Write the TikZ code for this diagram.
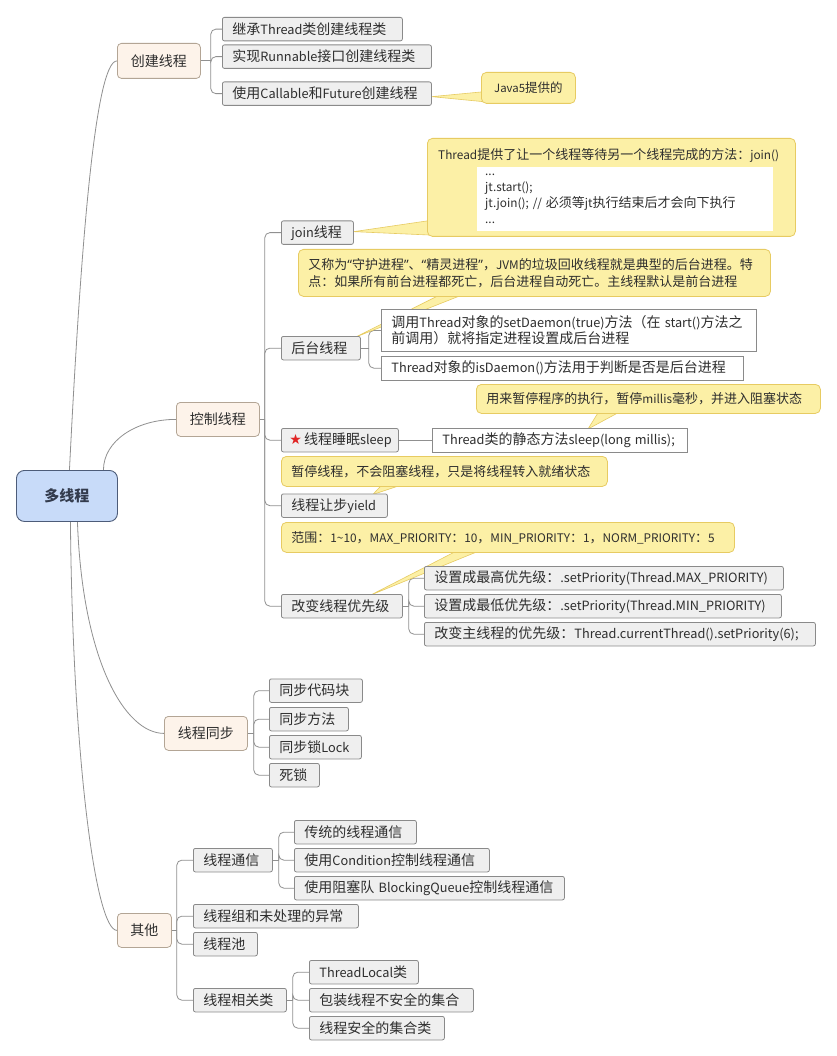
\documentclass[tikz,border=0pt]{standalone}
\usepackage{fontspec}
\setmainfont{Noto Sans CJK SC}[Scale=0.91]
\newfontfamily\latf{Noto Sans CJK SC}[Scale=0.91]
\newfontfamily\cjkf{Noto Sans CJK SC}
\newfontfamily\symfont{DejaVu Sans}
\newfontfamily\qfont{Noto Sans}
\newcommand\qmark[1]{{\XeTeXinterchartokenstate=0 \qfont #1}}
\XeTeXinterchartokenstate=1
\newXeTeXintercharclass\cjkcls
\newcount\cjkcc
\cjkcc="3000 \loop\XeTeXcharclass\cjkcc=\cjkcls\advance\cjkcc by 1 \ifnum\cjkcc<"3040 \repeat
\cjkcc="4E00 \loop\XeTeXcharclass\cjkcc=\cjkcls\advance\cjkcc by 1 \ifnum\cjkcc<"A000 \repeat
\cjkcc="FF00 \loop\XeTeXcharclass\cjkcc=\cjkcls\advance\cjkcc by 1 \ifnum\cjkcc<"FFF0 \repeat
\XeTeXinterchartoks 0 \cjkcls={\cjkf}
\XeTeXinterchartoks 4095 \cjkcls={\cjkf}
\XeTeXinterchartoks \cjkcls 0={\latf}
\XeTeXinterchartoks 4095 0={\latf}
\usetikzlibrary{calc}
\pgfdeclarelayer{bg}
\pgfsetlayers{bg,main}
\definecolor{linec}{HTML}{909090}
\definecolor{gfill}{HTML}{EFEFEF}
\definecolor{gbd}{HTML}{8A8A8A}
\definecolor{pfill}{HTML}{FDF3EA}
\definecolor{pbd}{HTML}{B3A595}
\definecolor{rfill}{HTML}{C8DBF9}
\definecolor{rbd}{HTML}{4D5C79}
\definecolor{rtxt}{HTML}{333B4D}
\definecolor{cfill}{HTML}{FCF0A6}
\definecolor{cbd}{HTML}{E7CB62}
\definecolor{txt}{HTML}{2E2E2E}
\definecolor{starc}{HTML}{E02424}
\begin{document}
\begin{tikzpicture}[x=1pt,y=-1pt,
  every node/.style={text=txt, font=\fontsize{14}{16.5}\selectfont},
  base/.style={anchor=north west, inner xsep=10pt, inner ysep=0pt, align=left, minimum height=23.5pt, line width=0.8pt},
  gb/.style={base, draw=gbd, fill=gfill, rounded corners=2pt},
  wb/.style={base, draw=gbd, fill=white},
  pb/.style={anchor=north west, draw=pbd, fill=pfill, rounded corners=4pt, inner sep=0pt, align=center, line width=0.8pt},
  co/.style={base, draw=cbd, fill=cfill, rounded corners=5pt, font=\fontsize{13}{17}\selectfont},
  wedge/.style={fill=cfill, draw=cbd, line width=0.6pt, line join=round},
  conn/.style={draw=linec, line width=0.8pt},
  branch/.style={conn, rounded corners=5pt},
]
\useasboundingbox (0,0) rectangle (836,1056);

% root and main branches
\node[anchor=north west, draw=rbd, fill=rfill, rounded corners=8pt, minimum width=101pt, minimum height=51pt, inner sep=0pt, line width=0.9pt, font=\fontsize{15}{18}\selectfont\bfseries, text=rtxt] (root) at (16,470) {多线程};
\node[pb, minimum width=83pt, minimum height=35pt] (cj) at (117,43) {创建线程};
\node[pb, minimum width=83pt, minimum height=34pt] (kz) at (176,402) {控制线程};
\node[pb, minimum width=83pt, minimum height=34pt] (tb) at (164,716) {线程同步};
\node[pb, minimum width=54pt, minimum height=34pt] (qt) at (117,913) {其他};

% 创建线程
\node[gb, text width=160pt] (c1) at (222,17) {继承Thread类创建线程类};
\node[gb, text width=189pt] (c2) at (222,44.5) {实现Runnable接口创建线程类};
\node[gb, text width=189pt] (c3) at (222,81.5) {使用Callable和Future创建线程};
\node[co, text width=74pt, align=center, minimum height=31pt, font=\fontsize{12.5}{15}\selectfont] (java) at (481,72) {Java5提供的};

% 控制线程
\node[gb, text width=52pt] (join) at (281,220.5) {join线程};
\node[co, minimum width=368pt, minimum height=98pt] (jc) at (427,138) {};
\node[anchor=west, inner sep=0pt, font=\fontsize{13}{16}\selectfont] (jtitle) at (438,155) {Thread提供了让一个线程等待另一个线程完成的方法：join()};
\node[anchor=north west, fill=white, text width=280pt, inner xsep=8pt, inner ysep=0pt, align=left, minimum height=64pt, font=\fontsize{13}{16}\selectfont] (jcode) at (477,167) {...\\jt.start();\\\mbox{jt.join(); // 必须等jt执行结束后才会向下执行}\\...};

\node[co, text width=452pt, minimum height=47pt] (dc) at (298,249) {又称为\qmark{“}守护进程\qmark{”}、\qmark{“}精灵进程\qmark{”}，JVM的垃圾回收线程就是典型的后台进程。特\\点：如果所有前台进程都死亡，后台进程自动死亡。主线程默认是前台进程};
\node[gb, text width=59pt] (bg) at (281,336) {后台线程};
\node[wb, text width=355pt, minimum height=42pt] (sd) at (381,309) {\mbox{调用Thread对象的setDaemon(true)方法（在 start()方法之}\\前调用）就将指定进程设置成后台进程};
\node[wb, text width=342pt] (isd) at (381,356) {Thread对象的isDaemon()方法用于判断是否是后台进程};

\node[co, text width=324pt, minimum height=29pt] (sc) at (476,384) {用来暂停程序的执行，暂停millis毫秒，并进入阻塞状态};
\node[gb, text width=101pt, inner xsep=8pt] (sl) at (281,428) {{\XeTeXinterchartokenstate=0 \symfont\fontsize{14}{16}\selectfont\color{starc}★}\,线程睡眠sleep};
\node[wb, text width=235pt] (slm) at (432,428) {\mbox{Thread类的静态方法sleep(long millis);}};

\node[co, text width=306pt, minimum height=30pt] (yc) at (281,456) {暂停线程，不会阻塞线程，只是将线程转入就绪状态};
\node[gb, text width=86pt] (yd) at (281,493.5) {线程让步yield};

\node[co, text width=433pt, minimum height=30pt] (pc) at (281,522) {范围：1\textasciitilde10，MAX\_PRIORITY：10，MIN\_PRIORITY：1，NORM\_PRIORITY：5};
\node[gb, text width=101pt] (pr) at (281,594) {改变线程优先级};
\node[gb, text width=339pt] (p1) at (424,566) {设置成最高优先级：.setPriority(Thread.MAX\_PRIORITY)};
\node[gb, text width=337pt] (p2) at (424,594) {设置成最低优先级：.setPriority(Thread.MIN\_PRIORITY)};
\node[gb, text width=371pt] (p3) at (424,622) {改变主线程的优先级：Thread.currentThread().setPriority(6);};

% 线程同步
\node[gb, text width=73pt] (s1) at (269,678.5) {同步代码块};
\node[gb, text width=59pt] (s2) at (269,707) {同步方法};
\node[gb, text width=72pt] (s3) at (269,735) {同步锁Lock};
\node[gb, text width=30pt] (s4) at (269,763) {死锁};

% 其他
\node[gb, text width=59pt] (o1) at (193,848) {线程通信};
\node[gb, text width=145pt] (o2) at (193,904) {线程组和未处理的异常};
\node[gb, text width=44pt] (o3) at (193,932) {线程池};
\node[gb, text width=73pt] (o4) at (193,988) {线程相关类};
\node[gb, text width=102pt] (t1) at (294,820) {传统的线程通信};
\node[gb, text width=175pt] (t2) at (294,848) {使用Condition控制线程通信};
\node[gb, text width=250pt] (t3) at (294,876) {\mbox{使用阻塞队 BlockingQueue控制线程通信}};
\node[gb, text width=89pt] (x1) at (309,960) {ThreadLocal类};
\node[gb, text width=144pt] (x2) at (309,988) {包装线程不安全的集合};
\node[gb, text width=115pt] (x3) at (309,1016) {线程安全的集合类};

\begin{pgfonlayer}{bg}
\fill[white] (0,0) rectangle (836,1056);
% root curves
\coordinate (r1) at ($(root.north)+(2.5,0)$);
\coordinate (r2) at ($(root.north)+(36.5,0)$);
\coordinate (r3) at ($(root.south)+(10.5,0)$);
\coordinate (r4) at ($(root.south)+(3.5,0)$);
\draw[conn] (r1) .. controls ($(r1)+(11,-220)$) and ($(cj.west)+(-22,0)$) .. (cj.west);
\draw[conn] (r2) .. controls ($(r2)+(0,-29)$) and ($(kz.west)+(-40,0)$) .. (kz.west);
\draw[conn] (r3) .. controls ($(r3)+(5,139)$) and ($(tb.west)+(-39,0)$) .. (tb.west);
\draw[conn] (r4) .. controls ($(r4)+(2,229)$) and ($(qt.west)+(-22,0)$) .. (qt.west);

% branches
\draw[conn] (cj.east) -- ++(10,0) coordinate (cjt);
\foreach \n in {c1,c2,c3} \draw[branch] (cjt) |- (\n.west);
\draw[conn] (kz.east) -- ++(5,0) coordinate (kzt);
\foreach \n in {join,bg,sl,yd,pr} \draw[branch] (kzt) |- (\n.west);
\draw[conn] (bg.east) -- ++(8,0) coordinate (bgt);
\foreach \n in {sd,isd} \draw[branch] (bgt) |- (\n.west);
\draw[conn] (sl.east) -- (slm.west);
\draw[conn] (pr.east) -- ++(6,0) coordinate (prt);
\foreach \n in {p1,p2,p3} \draw[branch] (prt) |- (\n.west);
\draw[conn] (tb.east) -- ++(6,0) coordinate (tbt);
\foreach \n in {s1,s2,s3,s4} \draw[branch] (tbt) |- (\n.west);
\draw[conn] (qt.east) -- ++(5,0) coordinate (qtt);
\foreach \n in {o1,o2,o3,o4} \draw[branch] (qtt) |- (\n.west);
\draw[conn] (o1.east) -- ++(6,0) coordinate (o1t);
\foreach \n in {t1,t2,t3} \draw[branch] (o1t) |- (\n.west);
\draw[conn] (o4.east) -- ++(6,0) coordinate (o4t);
\foreach \n in {x1,x2,x3} \draw[branch] (o4t) |- (\n.west);

% callout pointers
\draw[wedge] ($(c3.east)+(0,3)$) -- ($(java.west)+(1,4)$) -- ($(java.south west)+(14,-1)$) -- cycle;
\draw[wedge] ($(join.east)+(0,-1)$) -- ($(jc.south west)+(1,-16)$) -- ($(jc.south west)+(20,-1)$) -- cycle;
\draw[wedge] ($(bg.north east)+(-5,1)$) -- ($(dc.south west)+(140,-1)$) -- ($(dc.south west)+(162,-1)$) -- cycle;
\draw[wedge] ($(slm.north west)+(156,1)$) -- ($(sc.south west)+(122,-1)$) -- ($(sc.south west)+(142,-1)$) -- cycle;
\draw[wedge] ($(yd.north east)+(-15,1)$) -- ($(yc.south west)+(100,-1)$) -- ($(yc.south west)+(118,-1)$) -- cycle;
\draw[wedge] ($(pr.north east)+(-32,1)$) -- ($(pc.south west)+(174,-1)$) -- ($(pc.south west)+(196,-1)$) -- cycle;
\end{pgfonlayer}
\end{tikzpicture}
\end{document}
